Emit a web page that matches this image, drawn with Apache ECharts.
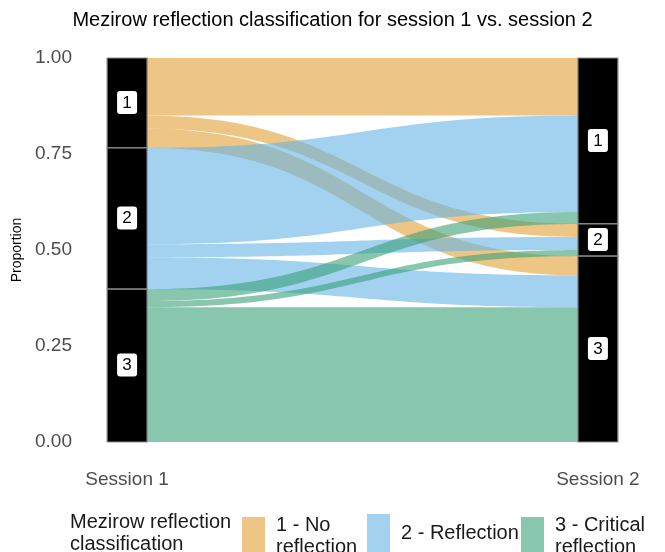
<!DOCTYPE html>
<html>
<head>
<meta charset="utf-8">
<script src="https://cdn.jsdelivr.net/npm/echarts@6/dist/echarts.min.js"></script>
<style>
  html, body { margin: 0; padding: 0; background: #fff; }
  #main { width: 665px; height: 552px; }
</style>
</head>
<body>
<div id="main"></div>
<script>
// sessions on the x axis and the three classes
var sessions = ['Session 1', 'Session 2'];
var classNames = ['1 - No\nreflection', '2 - Reflection', '3 - Critical\nreflection'];
var stratumLabels = ['1', '2', '3'];
var yTicks = [0, 0.25, 0.5, 0.75, 1];

// proportion moving from a session 1 class (array) to session 2 class 1, 2, 3
var fromClass1 = [0.150, 0.034, 0.050];
var fromClass2 = [0.251, 0.034, 0.083];
var fromClass3 = [0.031, 0.016, 0.351];

var flows = [fromClass1, fromClass2, fromClass3];
var flatColors = ['#EDC585', '#A3D2F0', '#88C6AE'];
var baseColors = ['rgba(225,158,52,0.6)', 'rgba(102,180,230,0.6)', 'rgba(57,160,120,0.6)'];
var halfW = 0.0425;

// stratum sizes
var s1 = flows.map(function (r) { return r[0] + r[1] + r[2]; });
var s2 = [0, 1, 2].map(function (j) { return flows[0][j] + flows[1][j] + flows[2][j]; });

function tops(sizes) {
  var t = [], y = 1;
  sizes.forEach(function (s) { t.push(y); y -= s; });
  return t;
}
var s1Top = tops(s1), s2Top = tops(s2);

// lode positions: left grouped by origin, right grouped by destination
var leftTop = [], rightTop = [];
for (var i = 0; i < 3; i++) {
  leftTop[i] = [];
  var y = s1Top[i];
  for (var j = 0; j < 3; j++) { leftTop[i][j] = y; y -= flows[i][j]; }
}
for (var j = 0; j < 3; j++) {
  var y2 = s2Top[j];
  for (var i = 0; i < 3; i++) {
    if (!rightTop[i]) rightTop[i] = [];
    rightTop[i][j] = y2; y2 -= flows[i][j];
  }
}

function bez(p0, p1, t) {
  var x0 = p0[0], x1 = p1[0], d = (x1 - x0) * 0.5;
  var mt = 1 - t;
  var x = mt*mt*mt*x0 + 3*mt*mt*t*(x0 + d) + 3*mt*t*t*(x1 - d) + t*t*t*x1;
  var yy = mt*mt*mt*p0[1] + 3*mt*mt*t*p0[1] + 3*mt*t*t*p1[1] + t*t*t*p1[1];
  return [x, yy];
}

function flowSeries(i) {
  return {
    name: classNames[i],
    type: 'custom',
    coordinateSystem: 'cartesian2d',
    itemStyle: { color: flatColors[i] },
    data: [[1.5, 0.5, 0], [1.5, 0.5, 1], [1.5, 0.5, 2]],
    renderItem: function (params, api) {
      var j = api.value(2);
      var v = flows[i][j];
      var a0 = api.coord([1 + halfW, leftTop[i][j]]);
      var a1 = api.coord([1 + halfW, leftTop[i][j] - v]);
      var b0 = api.coord([2 - halfW, rightTop[i][j]]);
      var b1 = api.coord([2 - halfW, rightTop[i][j] - v]);
      var pts = [], n = 60, k;
      for (k = 0; k <= n; k++) pts.push(bez(a0, b0, k / n));
      for (k = n; k >= 0; k--) pts.push(bez(a1, b1, k / n));
      return {
        type: 'polygon',
        shape: { points: pts },
        style: { fill: baseColors[i] }
      };
    },
    z: 2 + i
  };
}

var strataData = [];
for (var s = 0; s < 2; s++) for (var c = 0; c < 3; c++) strataData.push([s + 1, 0.5, c]);

var strataSeries = {
  type: 'custom',
  coordinateSystem: 'cartesian2d',
  silent: true,
  data: strataData,
  renderItem: function (params, api) {
    var sx = api.value(0), c = api.value(2);
    var top = sx === 1 ? s1Top[c] : s2Top[c];
    var size = sx === 1 ? s1[c] : s2[c];
    var p0 = api.coord([sx - halfW, top]);
    var p1 = api.coord([sx + halfW, top - size]);
    var mid = api.coord([sx, top - size / 2]);
    return {
      type: 'group',
      children: [
        { type: 'rect', shape: { x: p0[0], y: p0[1], width: p1[0] - p0[0], height: p1[1] - p0[1] },
          style: { fill: '#000', stroke: '#8c8c8c', lineWidth: 1.2 } },
        { type: 'rect', shape: { x: mid[0] - 10, y: mid[1] - 12, width: 20, height: 23, r: 3 },
          style: { fill: '#fff' } },
        { type: 'text', x: mid[0], y: mid[1],
          style: { text: stratumLabels[c], fill: '#000', fontSize: 17, align: 'center', verticalAlign: 'middle',
                   fontFamily: 'Liberation Sans' } }
      ]
    };
  },
  z: 10
};

var legendLefts = [242, 367, 521];
var legends = classNames.map(function (name, i) {
  return {
    data: [name],
    left: legendLefts[i],
    top: 514,
    padding: 0,
    icon: 'rect',
    itemWidth: 23,
    itemHeight: 38,
    selectedMode: false,
    textStyle: { fontSize: 20, color: '#1a1a1a', lineHeight: 22, fontFamily: 'Liberation Sans', padding: [0, 0, 0, 6] }
  };
});

var chart = echarts.init(document.getElementById('main'));
chart.setOption({
  animation: false,
  textStyle: { fontFamily: 'Liberation Sans' },
  title: {
    text: 'Mezirow reflection classification for session 1 vs. session 2',
    left: 'center',
    top: 10,
    padding: 0,
    textStyle: { fontSize: 20, fontWeight: 'normal', color: '#000', fontFamily: 'Liberation Sans' }
  },
  legend: legends,
  graphic: [{
    type: 'text', left: 70, top: 511,
    style: { text: 'Mezirow reflection\nclassification', fontSize: 20, lineHeight: 22, fill: '#1a1a1a',
             fontFamily: 'Liberation Sans' }
  }],
  grid: { left: 80, right: 20, top: 58, bottom: 110 },
  xAxis: {
    type: 'value', min: 0.9, max: 2.1,
    axisLine: { show: false }, axisTick: { show: false }, splitLine: { show: false },
    axisLabel: {
      customValues: [1, 2],
      formatter: function (v) { return sessions[Math.round(v) - 1]; },
      fontSize: 19, color: '#4d4d4d', margin: 28
    }
  },
  yAxis: {
    type: 'value', min: 0, max: 1, interval: 0.25,
    name: 'Proportion', nameLocation: 'middle', nameGap: 55,
    nameTextStyle: { fontSize: 14, color: '#000' },
    axisLine: { show: false }, axisTick: { show: false }, splitLine: { show: false },
    axisLabel: {
      customValues: yTicks,
      formatter: function (v) { return v.toFixed(2); },
      fontSize: 19, color: '#4d4d4d', margin: 8
    }
  },
  series: [flowSeries(0), flowSeries(1), flowSeries(2), strataSeries]
});
</script>
</body>
</html>
